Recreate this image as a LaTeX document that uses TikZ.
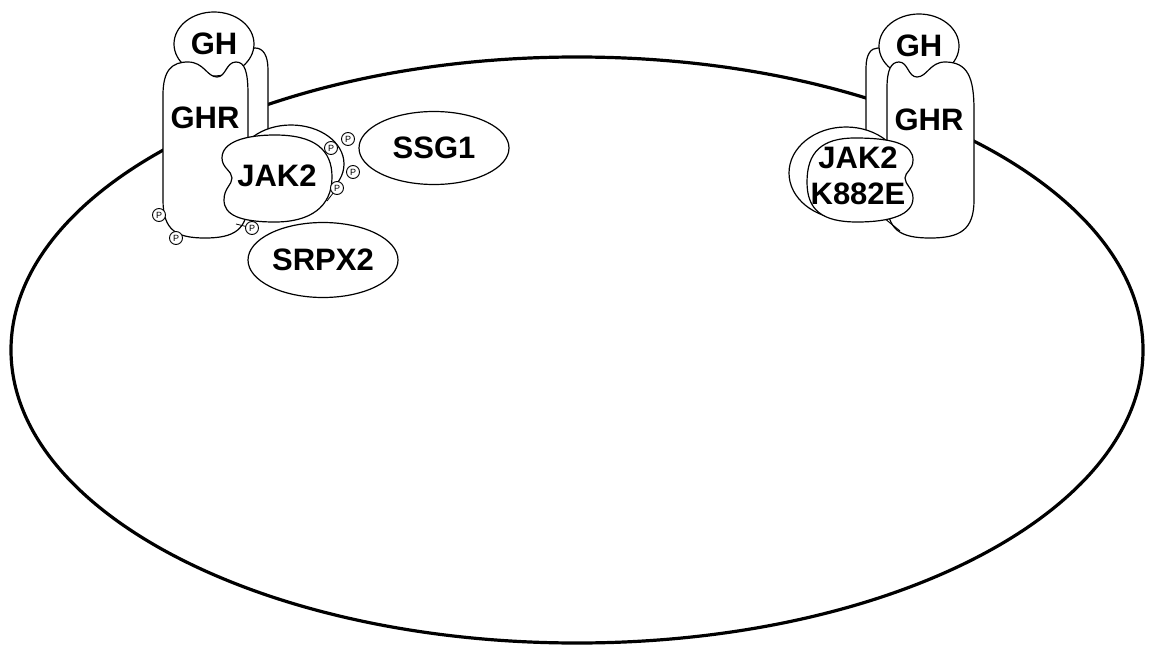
\documentclass[tikz,border=0pt]{standalone}
\usepackage{fontspec}
\setmainfont{Liberation Sans}
\usetikzlibrary{shapes.geometric}

\begin{document}
\begin{tikzpicture}[x=1pt, y=-1pt,
  prot/.style={draw=black, line width=1.2pt, fill=white},
  lbl/.style={font=\bfseries\fontsize{31}{36}\selectfont, align=center, inner sep=0pt},
  phos/.style={circle, draw=black, line width=0.9pt, fill=white, inner sep=0pt,
    minimum size=13pt, font=\fontsize{9}{9}\selectfont}]

\useasboundingbox (0,0) rectangle (1150,647);

% cell membrane
\draw [line width=3.2pt] (577,350) ellipse [x radius=566, y radius=293];

% left receptor: back chain, hormone, front chain
\draw [prot] (242,190) -- (242,68) .. controls (242,54) and (248,48) .. (255,48)
  .. controls (263,48) and (268,55) .. (268,70) -- (268,190) -- cycle;
\node [prot, ellipse, lbl, minimum width=80pt, minimum height=64pt] (ghL) at (214,44) {GH};
\draw [prot] (163,200) -- (163,95) .. controls (163,70) and (172,62) .. (188,62)
  .. controls (204,62) and (207,77) .. (217,77) .. controls (226,77) and (226,62) .. (236,62)
  .. controls (245,62) and (248,72) .. (248,95) -- (248,200)
  .. controls (248,230) and (234,238) .. (205,238) .. controls (176,238) and (163,230) .. (163,200) -- cycle;
\node [lbl] (ghrL) at (205,118) {GHR};

% JAK2 bound to the left receptor
\draw [prot] (291,164) ellipse [x radius=53, y radius=39];
\draw [prot] (275,135) .. controls (315,135) and (332,150) .. (332,177)
  .. controls (332,207) and (310,222) .. (275,222) .. controls (240,222) and (224,215) .. (224,200)
  .. controls (224,188) and (232,185) .. (232,178) .. controls (232,171) and (222,168) .. (222,158)
  .. controls (222,142) and (245,135) .. (275,135) -- cycle;
\node [lbl] (jakL) at (277,176) {JAK2};

% phosphorylated sites
\coordinate (tailD) at (327,201);
\coordinate (tailG) at (236,224);
\draw [line width=0.8pt] (337,188) -- (tailD);
\draw [line width=0.8pt] (252,228) -- (tailG);
\node [phos] (pA) at (331,148) {P};
\node [phos] (pB) at (348,139) {P};
\node [phos] (pC) at (353,172) {P};
\node [phos] (pD) at (337,188) {P};
\node [phos] (pE) at (159,215) {P};
\node [phos] (pF) at (176,238) {P};
\node [phos] (pG) at (252,228) {P};

% binding partners
\node [prot, ellipse, lbl, minimum width=150pt, minimum height=73pt] (ssg) at (434,148) {SSG1};
\node [prot, ellipse, lbl, minimum width=150pt, minimum height=75pt] (srpx) at (323,260) {SRPX2};

% right receptor with the mutant kinase
\draw [prot] (866,190) -- (866,68) .. controls (866,54) and (871,48) .. (878,48)
  .. controls (886,48) and (892,55) .. (892,70) -- (892,190) -- cycle;
\node [prot, ellipse, lbl, minimum width=80pt, minimum height=64pt] (ghR) at (919,46) {GH};
\draw [prot] (887,200) -- (887,88) .. controls (887,70) and (891,62) .. (899,62)
  .. controls (908,62) and (908,77) .. (917,77) .. controls (927,77) and (930,62) .. (945,62)
  .. controls (968,62) and (974,78) .. (974,110) -- (974,200)
  .. controls (974,230) and (960,238) .. (930,238) .. controls (900,238) and (887,230) .. (887,200) -- cycle;
\node [lbl] (ghrR) at (929,120) {GHR};

\draw [line width=1pt] (884,218) -- (900,231);
\draw [prot] (846,173) ellipse [x radius=57, y radius=46];
\draw [prot] (855,138) .. controls (895,138) and (913,145) .. (913,160)
  .. controls (913,170) and (905,172) .. (905,178) .. controls (905,185) and (913,188) .. (913,198)
  .. controls (913,215) and (890,222) .. (857,222) .. controls (822,222) and (807,210) .. (807,182)
  .. controls (807,152) and (822,138) .. (855,138) -- cycle;
\node [lbl] (jakR) at (858,176) {JAK2\\K882E};

\end{tikzpicture}
\end{document}
